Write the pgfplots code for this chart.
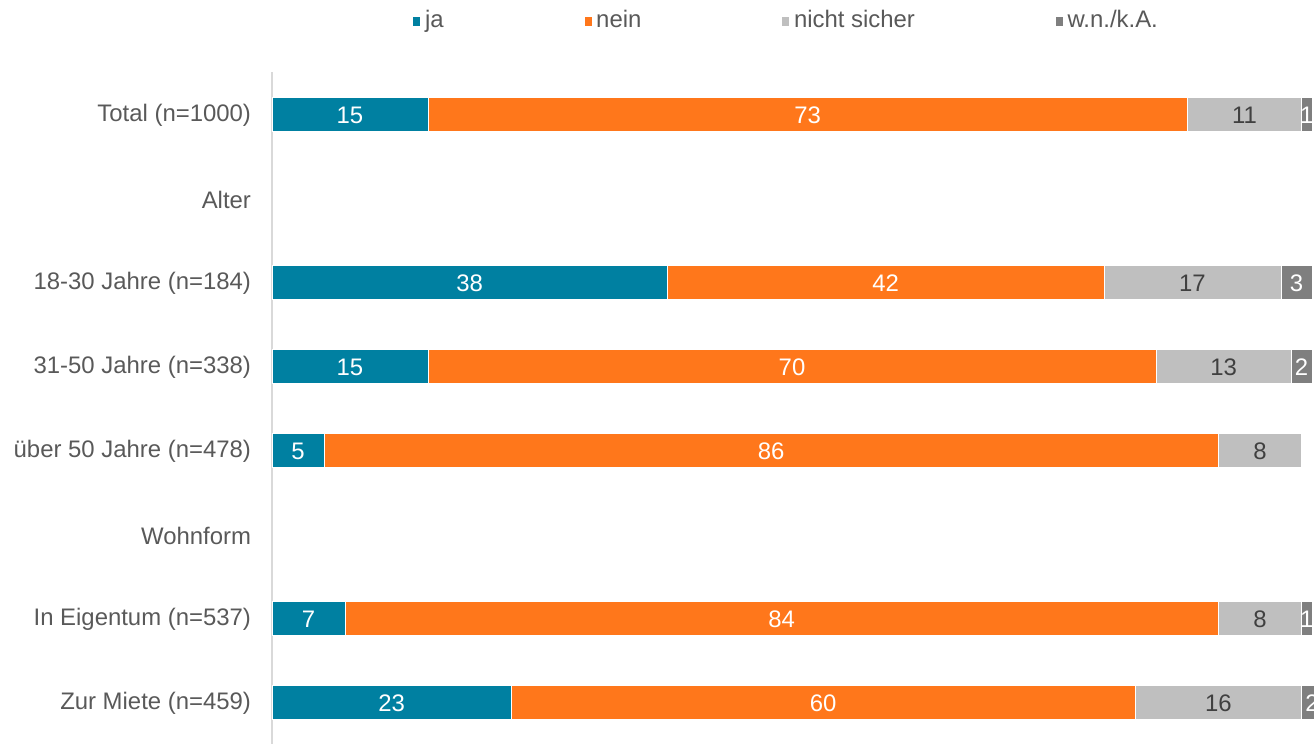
\documentclass[border=0pt]{standalone}
\usepackage{fontspec}
\setmainfont{Liberation Sans}
\usepackage{pgfplots}
\pgfplotsset{compat=1.18}
\definecolor{cja}{RGB}{0,128,161}
\definecolor{cnein}{RGB}{255,119,27}
\definecolor{cns}{RGB}{191,191,191}
\definecolor{cwn}{RGB}{127,127,127}
\definecolor{ctext}{RGB}{89,89,89}
\definecolor{cdark}{RGB}{64,64,64}
\definecolor{caxis}{RGB}{217,217,217}
\begin{document}
\begin{tikzpicture}
\useasboundingbox (0bp,0bp) rectangle (657bp,372bp);
\clip (0bp,0bp) rectangle (657bp,372bp);
\begin{axis}[
  at={(136bp,0bp)}, anchor=south west,
  scale only axis, width=530.4bp, height=336bp,
  xbar stacked, bar width=17bp,
  xmin=0, xmax=102,
  ymin=-0.5, ymax=7.5, y dir=reverse,
  ytick={0,...,7},
  yticklabels={Total (n=1000), Alter, 18-30 Jahre (n=184), 31-50 Jahre (n=338), über 50 Jahre (n=478), Wohnform, In Eigentum (n=537), Zur Miete (n=459)},
  yticklabel style={font=\fontsize{12}{14}\selectfont, text=ctext, xshift=-7bp, yshift=-0.75bp},
  major tick length=0pt,
  axis x line=none,
  axis y line=left,
  axis line style={draw=caxis, line width=0.8bp, -},
  ytick style={draw=none},
  /pgf/number format/assume math mode=true,
  nodes near coords={\pgfmathfloatifflags{\pgfplotspointmeta}{0}{}{\pgfmathprintnumber{\pgfplotspointmeta}}},
  every node near coord/.append style={font=\fontsize{12}{14}\selectfont, yshift=-0.75bp},
  legend columns=4,
  legend style={draw=none, at={(0.4828,1)}, anchor=center, yshift=26bp, xshift=1.5bp,
    font=\fontsize{12}{14}\selectfont, text=ctext,
    /tikz/every even column/.append style={column sep=68bp}},
  legend image code/.code={\fill[#1] (-3bp,-3bp) rectangle (1bp,1.8bp);},
]
\addplot[fill=cja, draw=white, line width=0.3bp, every node near coord/.append style={text=white}]
  coordinates {(15,0) (0,1) (38,2) (15,3) (5,4) (0,5) (7,6) (23,7)};
\addplot[fill=cnein, draw=white, line width=0.3bp, every node near coord/.append style={text=white}]
  coordinates {(73,0) (0,1) (42,2) (70,3) (86,4) (0,5) (84,6) (60,7)};
\addplot[fill=cns, draw=white, line width=0.3bp, every node near coord/.append style={text=cdark}]
  coordinates {(11,0) (0,1) (17,2) (13,3) (8,4) (0,5) (8,6) (16,7)};
\addplot[fill=cwn, draw=white, line width=0.3bp, every node near coord/.append style={text=white}]
  coordinates {(1,0) (0,1) (3,2) (2,3) (0,4) (0,5) (1,6) (2,7)};
\legend{ja, nein, nicht sicher, w.n./k.A.}
\end{axis}
\end{tikzpicture}
\end{document}
